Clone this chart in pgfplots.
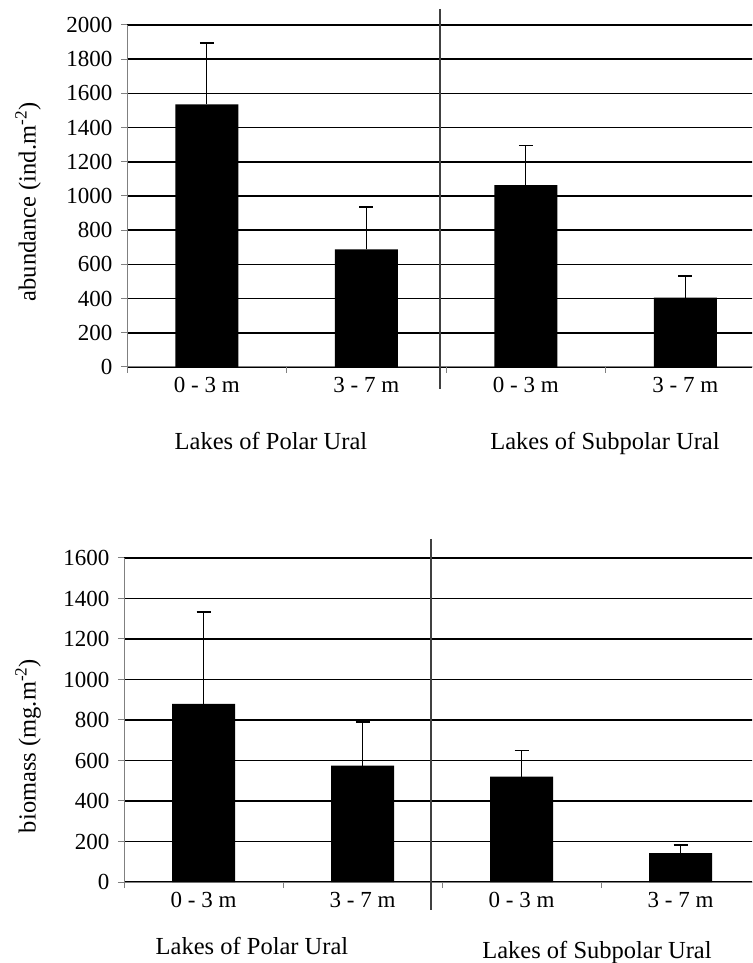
\documentclass[border=0pt]{standalone}
\usepackage{fontspec}
\setmainfont{Liberation Serif}
\usepackage{pgfplots}
\usepackage{pgfplotstable}
\pgfplotsset{compat=1.18}

% abundance (ind.m-2)
\pgfplotstableread{
x y err
0 1536 359
1 688 248
2 1064 232
3 405 127
}\abundance

% biomass (mg.m-2)
\pgfplotstableread{
x y err
0 880 453
1 575 215
2 520 128
3 142 41
}\biomass

\pgfplotsset{
  panel/.style={
    scale only axis,
    anchor=south west,
    xmin=-0.5, xmax=3.5, ymin=0,
    ytick distance=200,
    axis x line=bottom, axis y line=left,
    axis line style={draw=gray, line width=1pt, -},
    ymajorgrids,
    major grid style={black, line width=1.5pt},
    tick style={draw=gray, line width=1pt},
    tick align=outside,
    major tick length=6pt,
    xtick={-0.5,0.5,1.5,2.5},
    xticklabels={},
    extra x ticks={0,1,2,3},
    extra x tick labels={0 - 3 m,3 - 7 m,0 - 3 m,3 - 7 m},
    extra x tick style={major tick length=0pt},
    tick label style={font=\fontsize{23}{27}\selectfont},
    xticklabel style={yshift=-7pt},
    yticklabel style={xshift=-5pt},
    /pgf/number format/assume math mode=true,
    /pgf/number format/1000 sep={},
    clip=false,
  },
  bars/.style={
    ybar, bar width=63pt, fill=black, draw=none,
    error bars/.cd, y dir=plus, y explicit,
    error bar style={black, line width=1.3pt},
    error mark options={rotate=90, black, mark size=7pt, line width=1.3pt},
  },
}

\begin{document}
\begin{tikzpicture}[x=1pt,y=1pt]
\useasboundingbox (0,0) rectangle (752,963);
\clip (0,0) rectangle (752,963);

\begin{axis}[panel, at={(127pt,596pt)}, width=638pt, height=342pt, ymax=2000]
\addplot[bars] table[x=x, y=y, y error=err] {\abundance};
\draw[darkgray, line width=1.2pt] (axis cs:1.462,2094) -- (axis cs:1.462,-129);
\end{axis}

\begin{axis}[panel, at={(124pt,81pt)}, width=636pt, height=324pt, ymax=1600]
\addplot[bars] table[x=x, y=y, y error=err] {\biomass};
\draw[darkgray, line width=1.2pt] (axis cs:1.431,1694) -- (axis cs:1.431,-138);
\end{axis}

\begin{scope}[every node/.style={font=\fontsize{24.5}{29}\selectfont, inner sep=0pt}]
\node[rotate=90] at (28,761) {abundance (ind.m\textsuperscript{-2})};
\node[rotate=90] at (28,217) {biomass (mg.m\textsuperscript{-2})};
\node[anchor=base] at (271,513) {Lakes of Polar Ural};
\node[anchor=base] at (605,513) {Lakes of Subpolar Ural};
\node[anchor=base] at (252,9) {Lakes of Polar Ural};
\node[anchor=base] at (597,5) {Lakes of Subpolar Ural};
\end{scope}
\end{tikzpicture}
\end{document}
